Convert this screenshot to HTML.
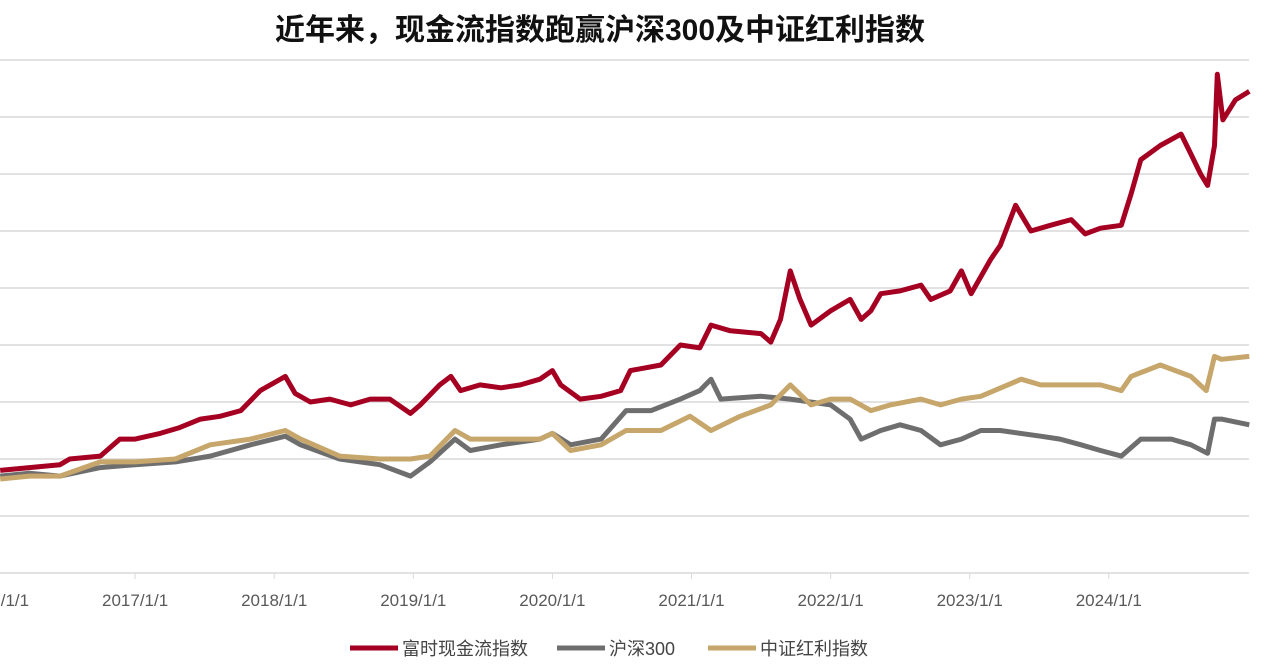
<!DOCTYPE html>
<html><head><meta charset="utf-8"><style>
body{margin:0;background:#fff;width:1269px;height:663px;overflow:hidden;font-family:"Liberation Sans","Noto Sans CJK SC",sans-serif}
</style></head><body>
<svg width="1269" height="663">
<text x="600" y="40" text-anchor="middle" font-size="30" font-weight="bold" fill="#111" style="font-family:'Liberation Sans','Noto Sans CJK SC',sans-serif">近年来，现金流指数跑赢沪深300及中证红利指数</text>
<g id="grid"></g>
<g id="xaxis"></g>
<g id="series"></g>
<g font-size="18" fill="#444">
<g><line x1="350" y1="648" x2="398" y2="648" stroke="#a50021" stroke-width="5"/><text x="402" y="655">富时现金流指数</text></g>
<g><line x1="557" y1="648" x2="605" y2="648" stroke="#6e6e6e" stroke-width="5"/><text x="609" y="655">沪深300</text></g>
<g><line x1="708" y1="648" x2="756" y2="648" stroke="#c6a66a" stroke-width="5"/><text x="760" y="655">中证红利指数</text></g>
</g>
</svg>
<script>
const yTicks=[0.6,0.8,1.0,1.2,1.4,1.6,1.8,2.0,2.2];
const xTickLabels=["2016/1/1","2017/1/1","2018/1/1","2019/1/1","2020/1/1","2021/1/1","2022/1/1","2023/1/1","2024/1/1"];
const xTickYears=[0,1,2,3,4,5,6,7,8];
const redT=[.03,.24,.46,.53,.75,.89,1.0,1.18,1.32,1.47,1.61,1.76,1.90,2.08,2.15,2.26,2.40,2.55,2.69,2.83,2.98,3.05,3.19,3.27,3.34,3.48,3.63,3.77,3.91,4.0,4.06,4.20,4.35,4.49,4.56,4.78,4.92,5.06,5.14,5.28,5.50,5.57,5.64,5.71,5.78,5.86,6.0,6.14,6.22,6.29,6.36,6.50,6.65,6.72,6.86,6.94,7.01,7.15,7.22,7.33,7.44,7.58,7.73,7.83,7.94,8.09,8.16,8.23,8.37,8.52,8.59,8.66,8.71,8.76,8.78,8.82,8.91,9.01];
const redV=[.76,.77,.78,.80,.81,.87,.87,.89,.91,.94,.95,.97,1.04,1.09,1.03,1.00,1.01,.99,1.01,1.01,.96,.99,1.06,1.09,1.04,1.06,1.05,1.06,1.08,1.11,1.06,1.01,1.02,1.04,1.11,1.13,1.20,1.19,1.27,1.25,1.24,1.21,1.29,1.46,1.36,1.27,1.32,1.36,1.29,1.32,1.38,1.39,1.41,1.36,1.39,1.46,1.38,1.50,1.55,1.69,1.60,1.62,1.64,1.59,1.61,1.62,1.73,1.85,1.90,1.94,1.87,1.80,1.76,1.90,2.15,1.99,2.06,2.09];
const grayT=[.03,.24,.46,.75,1.0,1.29,1.54,1.83,2.08,2.19,2.47,2.76,2.98,3.12,3.30,3.41,3.63,3.91,4.0,4.13,4.35,4.53,4.71,4.92,5.06,5.14,5.21,5.50,5.71,6.0,6.14,6.22,6.36,6.50,6.65,6.79,6.94,7.08,7.22,7.51,7.65,7.80,7.94,8.09,8.23,8.45,8.59,8.71,8.76,8.81,9.01];
const grayV=[.74,.75,.74,.77,.78,.79,.81,.85,.88,.85,.80,.78,.74,.79,.87,.83,.85,.87,.89,.85,.87,.97,.97,1.01,1.04,1.08,1.01,1.02,1.01,.99,.94,.87,.90,.92,.90,.85,.87,.90,.90,.88,.87,.85,.83,.81,.87,.87,.85,.82,.94,.94,.92];
const goldT=[.03,.24,.46,.75,1.0,1.29,1.54,1.83,2.08,2.19,2.47,2.76,2.98,3.12,3.30,3.41,3.63,3.91,4.0,4.13,4.35,4.53,4.78,4.99,5.14,5.35,5.57,5.71,5.86,6.0,6.14,6.29,6.43,6.65,6.79,6.94,7.08,7.37,7.51,7.73,7.94,8.09,8.16,8.37,8.59,8.70,8.76,8.81,9.01];
const goldV=[.73,.74,.74,.79,.79,.80,.85,.87,.90,.87,.81,.80,.80,.81,.90,.87,.87,.87,.89,.83,.85,.90,.90,.95,.90,.95,.99,1.06,.99,1.01,1.01,.97,.99,1.01,.99,1.01,1.02,1.08,1.06,1.06,1.06,1.04,1.09,1.13,1.09,1.04,1.16,1.15,1.16];
const NS="http://www.w3.org/2000/svg";
function xS(t){return -4+t*139.1;}
function yS(v){return 573-(v-0.4)*285;}
const grid=document.getElementById('grid');
for(const v of yTicks){const l=document.createElementNS(NS,'line');


l.setAttribute('x1',0);l.setAttribute('x2',1249);l.setAttribute('y1',yS(v));l.setAttribute('y2',yS(v));l.setAttribute('stroke','#d9d9d9');l.setAttribute('stroke-width','1.5');grid.appendChild(l);}
const xa=document.getElementById('xaxis');
const al=document.createElementNS(NS,'line');


al.setAttribute('x1',0);al.setAttribute('x2',1249);al.setAttribute('y1',573);al.setAttribute('y2',573);al.setAttribute('stroke','#d9d9d9');al.setAttribute('stroke-width','1.5');xa.appendChild(al);
xTickYears.forEach((t,i)=>{const x=xS(t);
const tk=document.createElementNS(NS,'line');


tk.setAttribute('x1',x);tk.setAttribute('x2',x);tk.setAttribute('y1',573);tk.setAttribute('y2',579);tk.setAttribute('stroke','#d9d9d9');xa.appendChild(tk);
const tx=document.createElementNS(NS,'text');


tx.setAttribute('x',x);tx.setAttribute('y',606);tx.setAttribute('text-anchor','middle');tx.setAttribute('font-size','17');tx.setAttribute('fill','#595959');tx.textContent=xTickLabels[i];xa.appendChild(tx);});
const ser=document.getElementById('series');
function draw(T,V,c,name){const p=document.createElementNS(NS,'polyline');


p.setAttribute('points',T.map((t,i)=>xS(t).toFixed(1)+','+yS(V[i]).toFixed(1)).join(' '));
p.setAttribute('fill','none');p.setAttribute('stroke',c);p.setAttribute('stroke-width','5');p.setAttribute('stroke-linejoin','round');ser.appendChild(p);}
draw(grayT,grayV,'#6e6e6e','line-hs300');
draw(goldT,goldV,'#c6a66a','line-dividend');
draw(redT,redV,'#a50021','line-cashflow');
</script>
</body></html>
